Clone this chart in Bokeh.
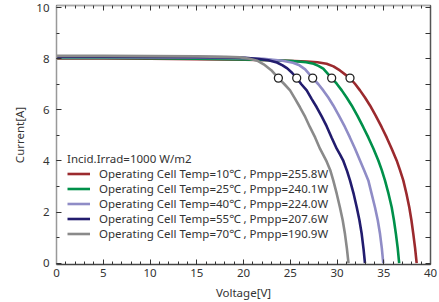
from bokeh.plotting import figure
from bokeh.models import LinearAxis, Range1d, FixedTicker, Legend, LegendItem
from bokeh.embed import file_html
from bokeh.resources import INLINE

# ---- data ----
v_10 = [0, 5, 10, 15, 20.15, 24.18, 26.76, 27.91, 28.89, 29.62, 30.31, 31.39, 31.94, 32.46, 32.99, 33.53, 34.15,
        34.78, 35.31, 35.85, 36.38, 36.73, 37.09, 37.43, 37.73, 37.96, 38.16, 38.35, 38.52]
i_10 = [8.01, 8.01, 8.0, 7.98, 7.96, 7.93, 7.89, 7.86, 7.80, 7.70, 7.54, 7.24, 7.01, 6.76, 6.48, 6.17, 5.76,
        5.32, 4.92, 4.48, 4.02, 3.65, 3.24, 2.72, 2.19, 1.68, 1.15, 0.6, 0]

v_25 = [0, 5, 10, 15, 20.15, 23.17, 25.19, 26.7, 27.5, 28.01, 28.53, 29.43, 29.97, 30.51, 31.03, 31.57, 32.19,
        32.81, 33.35, 33.9, 34.42, 34.78, 35.13, 35.51, 35.85, 36.09, 36.3, 36.49, 36.65]
i_25 = [8.03, 8.03, 8.02, 8.0, 7.97, 7.94, 7.91, 7.86, 7.80, 7.72, 7.61, 7.24, 7.02, 6.76, 6.48, 6.17, 5.76,
        5.32, 4.92, 4.48, 4.02, 3.65, 3.24, 2.72, 2.19, 1.68, 1.15, 0.6, 0]

v_40 = [0, 5, 10, 15, 20.15, 22.16, 23.17, 24.18, 25.29, 25.99, 26.6, 27.4, 28.01, 28.53, 29.07, 29.6, 30.22,
        30.86, 31.38, 31.93, 32.46, 32.89, 33.35, 33.7, 34.06, 34.36, 34.6, 34.79, 34.95]
i_40 = [8.06, 8.06, 8.05, 8.04, 8.02, 8.0, 7.96, 7.92, 7.84, 7.74, 7.58, 7.24, 7.0, 6.76, 6.48, 6.17, 5.76,
        5.32, 4.92, 4.48, 4.02, 3.65, 3.24, 2.72, 2.19, 1.68, 1.15, 0.6, 0]

v_55 = [0, 5, 10, 15, 18.13, 20.15, 21.66, 22.67, 23.58, 24.18, 24.68, 25.19, 25.69, 26.19, 26.76, 27.3, 27.83,
        28.36, 28.89, 29.42, 29.97, 30.33, 30.68, 31.08, 31.39, 31.79, 32.11, 32.39, 32.64, 32.84, 32.99]
i_55 = [8.08, 8.08, 8.07, 8.06, 8.05, 8.03, 7.99, 7.94, 7.85, 7.74, 7.62, 7.45, 7.24, 7.0, 6.76, 6.42, 6.10,
        5.74, 5.36, 4.92, 4.48, 4.25, 4.0, 3.6, 3.24, 2.7, 2.19, 1.7, 1.15, 0.55, 0]

v_70 = [0, 5, 10, 15, 18.13, 19.65, 20.65, 21.46, 22.16, 22.97, 23.73, 24.38, 24.98, 25.49, 26.04, 26.6, 27.11,
        27.66, 28.18, 28.89, 29.27, 29.6, 29.97, 30.31, 30.61, 30.85, 31.05, 31.23]
i_70 = [8.11, 8.11, 8.10, 8.09, 8.07, 8.05, 8.00, 7.92, 7.78, 7.55, 7.24, 7.0, 6.76, 6.45, 6.10, 5.72, 5.32,
        4.92, 4.48, 3.98, 3.65, 3.24, 2.72, 2.19, 1.68, 1.15, 0.6, 0]

temps = ["10", "25", "40", "55", "70"]
pmpp = ["255.8", "240.1", "224.0", "207.6", "190.9"]
v_mpp = [31.39, 29.43, 27.4, 25.69, 23.73]
i_mpp = [7.24, 7.24, 7.24, 7.24, 7.24]
colors = ["#9b2a2e", "#00904a", "#8f8cc6", "#221c6e", "#8a8a8a"]

x_ticks = [0, 5, 10, 15, 20, 25, 30, 35, 40]
x_minor = list(range(0, 41))
y_ticks = [0, 2, 4, 6, 8, 10]
y_minor = list(range(0, 11))
title = "Incid.Irrad=1000 W/m2"

FONT = "Noto Sans"
TXT = "#333333"

p = figure(width=439, height=302, x_range=Range1d(0, 40), y_range=Range1d(-0.05, 10.08),
           output_backend="svg", toolbar_location=None,
           min_border_left=56, min_border_right=9, min_border_top=5, min_border_bottom=38,
           outline_line_color=None, background_fill_color="white")
p.grid.visible = False

def style_ticks(ax, color):
    ax.major_tick_in = 5
    ax.major_tick_out = 0
    ax.minor_tick_in = 3
    ax.minor_tick_out = 0
    ax.axis_line_color = color
    ax.axis_line_width = 1.5
    ax.major_tick_line_color = "#333333"
    ax.minor_tick_line_color = "#333333"

def style_labels(ax):
    ax.major_label_text_font = FONT
    ax.major_label_text_font_size = "11.5px"
    ax.major_label_text_color = TXT
    ax.axis_label_text_font = FONT
    ax.axis_label_text_font_size = "11.5px"
    ax.axis_label_text_font_style = "normal"
    ax.axis_label_text_color = TXT

xa = p.xaxis[0]
xa.ticker = FixedTicker(ticks=x_ticks, minor_ticks=x_minor)
style_ticks(xa, "#444444")
style_labels(xa)
xa.axis_label = "Voltage[V]"
xa.major_label_standoff = 4
xa.axis_label_standoff = 5

ya = p.yaxis[0]
ya.ticker = FixedTicker(ticks=y_ticks, minor_ticks=y_minor)
style_ticks(ya, "#999999")
style_labels(ya)
ya.axis_label = "Current[A]"
ya.major_label_standoff = 7
ya.axis_label_standoff = 6

# mirrored tick marks on the top and right frame edges (no labels)
def tick_only_axis(positions, length, color):
    ax = LinearAxis(ticker=FixedTicker(ticks=[], minor_ticks=positions))
    style_ticks(ax, color)
    ax.minor_tick_in = length
    ax.major_label_standoff = 0
    return ax

p.add_layout(tick_only_axis(x_ticks, 5, "#aaaaaa"), "above")
p.add_layout(tick_only_axis(x_minor, 3, "#aaaaaa"), "above")
p.add_layout(tick_only_axis(y_minor, 5, "#555555"), "right")

series = [(v_10, i_10), (v_25, i_25), (v_40, i_40), (v_55, i_55), (v_70, i_70)]
items = []
for (vv, ii), c, t, pw in zip(series, colors, temps, pmpp):
    r = p.line(vv, ii, line_color=c, line_width=2.6)
    items.append(LegendItem(label=f"Operating Cell Temp={t}\u2103 , Pmpp={pw}W", renderers=[r]))

p.scatter(v_mpp, i_mpp, size=8, marker="circle", fill_color="white", line_color="#222222", line_width=1.3)

legend = Legend(items=items, location=(11, 23), title=title,
                title_text_font=FONT, title_text_font_size="11.5px", title_text_font_style="normal",
                title_text_color=TXT, title_standoff=0,
                label_text_font=FONT, label_text_font_size="11.5px", label_text_color=TXT,
                label_standoff=9, glyph_width=23, glyph_height=13, label_height=13, spacing=-3,
                padding=0, margin=0, background_fill_alpha=0, border_line_alpha=0)
p.add_layout(legend)

open("out.html", "w").write(file_html(p, INLINE))
